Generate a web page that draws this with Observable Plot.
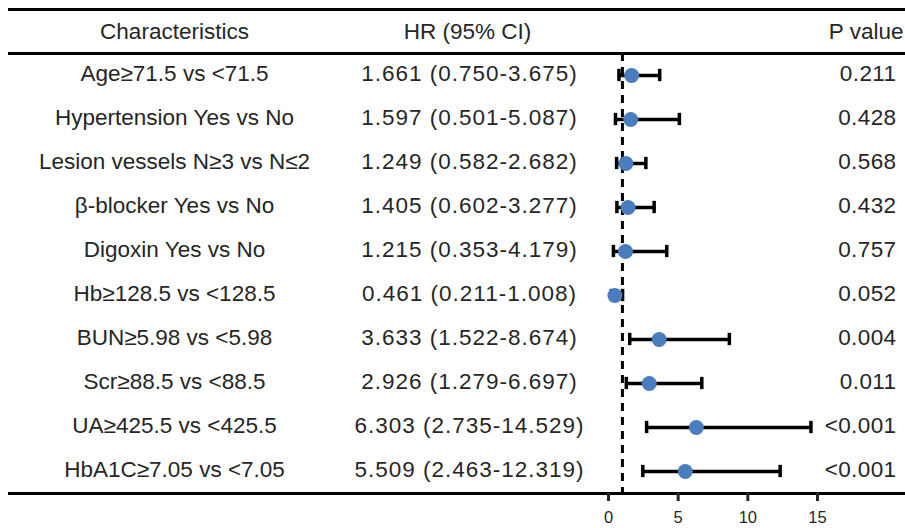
<!DOCTYPE html>
<html>
<head>
<meta charset="utf-8">
<script src="https://cdn.jsdelivr.net/npm/d3@7"></script>
<script src="https://cdn.jsdelivr.net/npm/@observablehq/plot@0.6"></script>
<style>
  html, body { margin: 0; padding: 0; background: #fff; }
  #chart svg { display: block; }
  .ci text { letter-spacing: 1px; }
  .pv text { letter-spacing: 0.4px; }
</style>
</head>
<body>
<div id="chart"></div>
<script>
const characteristics = [
  "Age≥71.5 vs <71.5",
  "Hypertension Yes vs No",
  "Lesion vessels N≥3 vs N≤2",
  "β-blocker Yes vs No",
  "Digoxin Yes vs No",
  "Hb≥128.5 vs <128.5",
  "BUN≥5.98 vs <5.98",
  "Scr≥88.5 vs <88.5",
  "UA≥425.5 vs <425.5",
  "HbA1C≥7.05 vs <7.05"
];
const hr    = [1.661, 1.597, 1.249, 1.405, 1.215, 0.461, 3.633, 2.926, 6.303, 5.509];
const lower = [0.750, 0.501, 0.582, 0.602, 0.353, 0.211, 1.522, 1.279, 2.735, 2.463];
const upper = [3.675, 5.087, 2.682, 3.277, 4.179, 1.008, 8.674, 6.697, 14.529, 12.319];
const pvalues = ["0.211", "0.428", "0.568", "0.432", "0.757", "0.052", "0.004", "0.011", "<0.001", "<0.001"];
const headers = ["Characteristics", "HR (95% CI)", "P value"];
const xTicks = [0, 5, 10, 15];

const rows = characteristics.map((c, k) => ({
  row: k + 1,
  label: c,
  hr: hr[k],
  lo: lower[k],
  hi: upper[k],
  ci: `${hr[k].toFixed(3)} (${lower[k].toFixed(3)}-${upper[k].toFixed(3)})`,
  p: pvalues[k]
}));
const header = [{row: 0}];
const cap = 0.14;
const font = "Liberation Sans, Arial, sans-serif";
const txt = "#262626";
const fs = 22.5;

const chart = Plot.plot({
  width: 905,
  height: 528,
  marginLeft: 8,
  marginRight: 0,
  marginTop: 0,
  marginBottom: 35,
  style: {fontFamily: font, background: "#fff"},
  x: {domain: [0, 15], range: [608, 817]},
  y: {domain: [-0.5, 10.5], range: [9, 493], axis: null},
  marks: [
    // table rules
    Plot.ruleY([-0.5, 0.5, 10.5], {stroke: "#000", strokeWidth: 3}),
    // reference line at HR = 1
    Plot.ruleX([1], {y1: 0.5, y2: 10.5, stroke: "#000", strokeWidth: 3, strokeDasharray: "8,6"}),
    // header texts
    Plot.text(header, {y: "row", text: () => headers[0], frameAnchor: "left", textAnchor: "middle", dx: 166, fontSize: fs, fill: txt}),
    Plot.text(header, {y: "row", text: () => headers[1], frameAnchor: "left", textAnchor: "middle", dx: 459, fontSize: fs, fill: txt}),
    Plot.text(header, {y: "row", text: () => headers[2], frameAnchor: "right", textAnchor: "end", dx: -2, fontSize: fs, fill: txt}),
    // row texts
    Plot.text(rows, {y: "row", text: "label", frameAnchor: "left", textAnchor: "middle", dx: 166, dy: -1.5, fontSize: fs, fill: txt}),
    Plot.text(rows, {y: "row", text: "ci", frameAnchor: "left", textAnchor: "middle", dx: 461, dy: -1.5, fontSize: fs, fill: txt, className: "ci"}),
    Plot.text(rows, {y: "row", text: "p", frameAnchor: "right", textAnchor: "end", dx: -9, dy: -1.5, fontSize: fs, fill: txt, className: "pv"}),
    // CI bars
    Plot.ruleY(rows, {y: "row", x1: "lo", x2: "hi", stroke: "#000", strokeWidth: 3.5}),
    Plot.ruleX(rows, {x: "lo", y1: d => d.row - cap, y2: d => d.row + cap, stroke: "#000", strokeWidth: 3.5}),
    Plot.ruleX(rows, {x: "hi", y1: d => d.row - cap, y2: d => d.row + cap, stroke: "#000", strokeWidth: 3.5}),
    // point estimates
    Plot.dot(rows, {x: "hr", y: "row", r: 7.5, fill: "#4a7dbd", stroke: "none"}),
    // x axis
    Plot.axisX({ticks: xTicks, tickSize: 8, tickPadding: 10, strokeWidth: 3, fontSize: 16.5, color: txt, label: null, tickFormat: d3.format("d")})
  ]
});
document.getElementById("chart").appendChild(chart);
</script>
</body>
</html>
